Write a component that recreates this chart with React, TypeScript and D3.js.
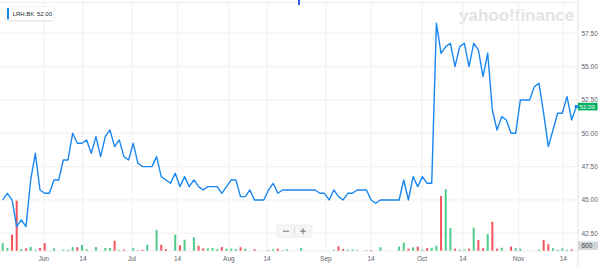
import React from "react";
import * as d3 from "d3";

const prices: number[] = [
  45.0, 45.5, 45.0, 43.0, 43.5, 43.0, 46.5, 48.5, 45.75, 45.5,
  45.5, 46.5, 46.5, 48.0, 48.0, 50.0, 49.25, 49.25, 49.5, 48.5,
  49.75, 48.25, 49.75, 50.25, 49.0, 49.5, 48.25, 48.0, 49.25, 47.75,
  47.5, 47.5, 47.5, 48.25, 46.75, 46.5, 46.25, 47.0, 46.0, 46.75,
  46.0, 46.5, 46.0, 45.75, 46.0, 46.0, 46.0, 45.5, 46.0, 46.5,
  46.5, 45.25, 45.25, 45.75, 45.0, 45.0, 45.0, 45.75, 46.25, 45.5,
  45.75, 45.75, 45.75, 45.75, 45.75, 45.75, 45.75, 45.75, 45.5, 45.5,
  45.0, 45.75, 45.25, 45.0, 45.5, 45.5, 45.75, 45.75, 45.75, 45.0,
  44.75, 45.0, 45.0, 45.0, 45.0, 45.0, 46.5, 45.0, 46.75, 46.0,
  46.75, 46.25, 46.25, 58.25, 56.0, 56.5, 56.75, 55.0, 56.5, 56.75,
  55.0, 56.75, 56.25, 54.25, 56.0, 51.75, 50.25, 51.25, 51.0, 50.0,
  50.0, 52.5, 52.5, 52.5, 53.5, 53.75, 51.5, 49.0, 50.25, 51.5,
  51.5, 52.75, 51.0, 52.0,
];

const volumes: number[] = [
  900, 300, 1920, 6000, 200, 280, 460, 120, 320, 900,
  0, 280, 0, 120, 120, 440, 420, 700, 180, 0,
  440, 0, 320, 320, 1200, 100, 120, 0, 300, 60,
  120, 720, 0, 2480, 720, 200, 0, 1920, 660, 1320,
  0, 1620, 600, 280, 280, 320, 180, 440, 240, 240,
  200, 420, 240, 0, 180, 0, 0, 80, 180, 240,
  80, 160, 0, 0, 320, 0, 0, 0, 0, 0,
  0, 100, 520, 200, 120, 160, 80, 0, 80, 80,
  0, 420, 0, 0, 0, 500, 960, 240, 400, 480,
  120, 300, 360, 600, 6560, 7380, 2700, 240, 120, 120,
  240, 2760, 1280, 300, 1980, 3480, 240, 360, 0, 480,
  300, 240, 0, 0, 0, 120, 1280, 780, 300, 120,
  280, 120, 160, 0,
];

const xTickLabels: string[] = ["Jun", "14", "Jul", "14", "Aug", "14", "Sep", "14", "Oct", "14", "Nov", "14"];
const xTickIndex: number[] = [8.8, 17.2, 27.7, 37.5, 48.5, 56.7, 69.3, 79.0, 89.9, 98.7, 110.6, 120.2];
const yTicks: number[] = [42.5, 45, 47.5, 50, 52.5, 55, 57.5];
const symbol = "LRH.BK";
const lastPrice = 52.0;
const lastVolume = 600;

const W = 600;
const H = 267;
const plotRight = 578;

export default function App() {
  const x = d3.scaleLinear().domain([0, prices.length - 1]).range([2.7, 576.3]);
  const y = d3.scaleLinear().domain([42.5, 57.5]).range([233.3, 33.3]);
  const yVol = d3.scaleLinear().domain([0, 12000]).range([250.7, 150.7]);

  const line = d3
    .line<number>()
    .x((_, i) => x(i))
    .y((d) => y(d))
    .curve(d3.curveLinear);

  const font = "'Liberation Sans', Arial, Helvetica, sans-serif";
  const green = "#4fcb8a";
  const red = "#f5535b";

  return (
    <svg
      width={W}
      height={H}
      style={{ position: "absolute", left: 0, top: 0, background: "#fff" }}
      fontFamily={font}
    >
      <defs>
        <filter id="sh" x="-20%" y="-40%" width="140%" height="180%">
          <feDropShadow dx="0" dy="0.5" stdDeviation="0.8" floodColor="#000" floodOpacity="0.18" />
        </filter>
      </defs>

      {/* watermark */}
      <text x={459} y={21} fontSize={17} fontWeight="bold" fill="#e3e3e3" fontFamily={font}>
        yahoo!finance
      </text>

      {/* horizontal grid */}
      <line x1={0} x2={plotRight} y1={2.5} y2={2.5} stroke="#ececec" strokeWidth={1} />
      {yTicks.map((t) => (
        <line key={"h" + t} x1={0} x2={plotRight} y1={y(t)} y2={y(t)} stroke="#f0f0f0" strokeWidth={1} />
      ))}
      {/* vertical grid */}
      {xTickIndex.map((t, i) => (
        <line key={"v" + i} x1={x(t)} x2={x(t)} y1={2.5} y2={253} stroke="#f0f0f0" strokeWidth={1} />
      ))}
      <line x1={0} x2={plotRight} y1={251} y2={251} stroke="#ececec" strokeWidth={1} />
      <line x1={plotRight} x2={plotRight} y1={0} y2={267} stroke="#e2e2e2" strokeWidth={1} />

      {/* volume bars */}
      {volumes.map((v, i) => {
        if (v <= 0) return null;
        const up = i === 0 || prices[i] >= prices[i - 1];
        const top = yVol(v);
        return (
          <rect
            key={"b" + i}
            x={x(i) - 1}
            y={top}
            width={2}
            height={yVol(0) - top}
            fill={up ? green : red}
          />
        );
      })}

      {/* price line */}
      <path d={line(prices) || ""} fill="none" stroke="#1a87f0" strokeWidth={1.4} strokeLinejoin="round" />
      <circle cx={x(prices.length - 1)} cy={y(lastPrice)} r={1.8} fill="#1a87f0" />

      {/* y labels */}
      {yTicks.map((t) => (
        <text key={"yl" + t} x={581.5} y={y(t)} dy="0.35em" fontSize={6.5} fill="#5b636a">
          {t.toFixed(2)}
        </text>
      ))}

      {/* last price badge */}
      <rect x={578} y={y(lastPrice) - 3.8} width={19.5} height={7.6} fill="#00b061" />
      <text x={579.5} y={y(lastPrice)} dy="0.35em" fontSize={6.2} fill="#fff">
        {lastPrice.toFixed(2)}
      </text>

      {/* volume badge */}
      <rect x={578} y={yVol(lastVolume) - 4.2} width={20} height={8.4} fill="#d2d4d6" />
      <text x={581.5} y={yVol(lastVolume)} dy="0.35em" fontSize={6.5} fill="#3b4147">
        {String(lastVolume)}
      </text>

      {/* x labels */}
      {xTickLabels.map((l, i) => (
        <text key={"xl" + i} x={x(xTickIndex[i])} y={261.3} textAnchor="middle" fontSize={6.5} fill="#5b636a">
          {l}
        </text>
      ))}

      {/* zoom control */}
      <rect x={277} y={225} width={35} height={12.3} rx={1.5} fill="#f6f6f6" stroke="#e6e6e6" strokeWidth={0.6} />
      <line x1={294.5} x2={294.5} y1={227} y2={235.3} stroke="#c8c8c8" strokeWidth={0.6} />
      <line x1={283} x2={289} y1={231.2} y2={231.2} stroke="#555" strokeWidth={0.8} />
      <line x1={300} x2={306} y1={231.2} y2={231.2} stroke="#555" strokeWidth={0.8} />
      <line x1={303} x2={303} y1={228.2} y2={234.2} stroke="#555" strokeWidth={0.8} />

      {/* top marker */}
      <rect x={298} y={0} width={2} height={5} fill="#3b5bdb" />

      {/* legend */}
      <rect x={6.5} y={7.3} width={47} height={12.7} rx={1.5} fill="#fff" filter="url(#sh)" />
      <rect x={7} y={8} width={2} height={11.3} fill="#1a87f0" />
      <text x={12.7} y={13.7} dy="0.35em" fontSize={6} fill="#232a31">
        {symbol}
      </text>
      <text x={37} y={13.7} dy="0.35em" fontSize={6} fill="#232a31">
        {lastPrice.toFixed(2)}
      </text>
    </svg>
  );
}
